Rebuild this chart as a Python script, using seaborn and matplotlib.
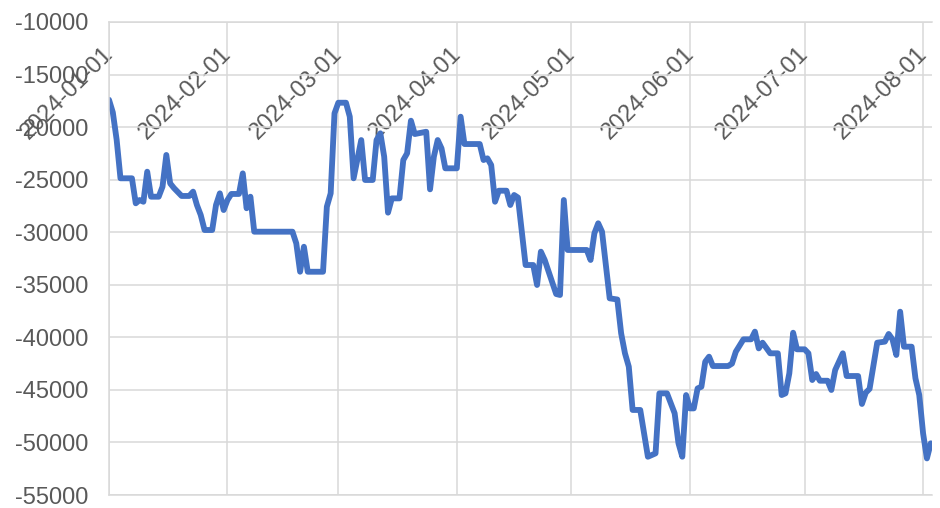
import matplotlib
matplotlib.use("Agg")
import matplotlib.pyplot as plt
import matplotlib.transforms as mtransforms
import seaborn as sns
import pandas as pd

# ---- data ----
dates = [
    "2024-01-01", "2024-01-02", "2024-01-03", "2024-01-04", "2024-01-07", "2024-01-08",
    "2024-01-09", "2024-01-10", "2024-01-11", "2024-01-12", "2024-01-14", "2024-01-15",
    "2024-01-16", "2024-01-17", "2024-01-18", "2024-01-20", "2024-01-22", "2024-01-23",
    "2024-01-24", "2024-01-25", "2024-01-26", "2024-01-28", "2024-01-29", "2024-01-30",
    "2024-01-31", "2024-02-01", "2024-02-02", "2024-02-04", "2024-02-05", "2024-02-06",
    "2024-02-07", "2024-02-08", "2024-02-18", "2024-02-19", "2024-02-20", "2024-02-21",
    "2024-02-22", "2024-02-26", "2024-02-27", "2024-02-28", "2024-02-29", "2024-03-01",
    "2024-03-03", "2024-03-04", "2024-03-05", "2024-03-07", "2024-03-08", "2024-03-10",
    "2024-03-11", "2024-03-12", "2024-03-13", "2024-03-14", "2024-03-15", "2024-03-17",
    "2024-03-18", "2024-03-19", "2024-03-20", "2024-03-21", "2024-03-24", "2024-03-25",
    "2024-03-26", "2024-03-27", "2024-03-28", "2024-03-29", "2024-04-01", "2024-04-02",
    "2024-04-03", "2024-04-07", "2024-04-08", "2024-04-09", "2024-04-10", "2024-04-11",
    "2024-04-12", "2024-04-14", "2024-04-15", "2024-04-16", "2024-04-17", "2024-04-19",
    "2024-04-21", "2024-04-22", "2024-04-23", "2024-04-24", "2024-04-27", "2024-04-28",
    "2024-04-29", "2024-04-30", "2024-05-05", "2024-05-06", "2024-05-07", "2024-05-08",
    "2024-05-09", "2024-05-11", "2024-05-13", "2024-05-14", "2024-05-15", "2024-05-16",
    "2024-05-17", "2024-05-19", "2024-05-21", "2024-05-23", "2024-05-24", "2024-05-26",
    "2024-05-28", "2024-05-29", "2024-05-30", "2024-05-31", "2024-06-01", "2024-06-02",
    "2024-06-03", "2024-06-04", "2024-06-05", "2024-06-06", "2024-06-07", "2024-06-11",
    "2024-06-12", "2024-06-13", "2024-06-15", "2024-06-17", "2024-06-18", "2024-06-19",
    "2024-06-20", "2024-06-22", "2024-06-24", "2024-06-25", "2024-06-26", "2024-06-27",
    "2024-06-28", "2024-06-29", "2024-07-01", "2024-07-02", "2024-07-03", "2024-07-04",
    "2024-07-05", "2024-07-07", "2024-07-08", "2024-07-09", "2024-07-11", "2024-07-12",
    "2024-07-15", "2024-07-16", "2024-07-17", "2024-07-18", "2024-07-20", "2024-07-22",
    "2024-07-23", "2024-07-24", "2024-07-25", "2024-07-26", "2024-07-27", "2024-07-29",
    "2024-07-30", "2024-07-31", "2024-08-01", "2024-08-02", "2024-08-03",
]
values = [
    -17400, -18600, -21200, -24870, -24870, -27250,
    -26935, -27100, -24240, -26620, -26620, -25670,
    -22650, -25350, -25800, -26550, -26550, -26140,
    -27410, -28360, -29790, -29790, -27410, -26300,
    -27890, -26935, -26360, -26360, -24400, -27720,
    -26620, -29950, -29950, -31060, -33760, -31380,
    -33760, -33760, -27570, -26300, -18690, -17680,
    -17680, -19010, -24870, -21230, -25030, -25030,
    -21230, -20590, -22810, -28140, -26780, -26780,
    -23130, -22490, -19390, -20660, -20440, -25920,
    -22810, -21230, -22020, -23920, -23920, -19010,
    -21610, -21610, -23130, -22970, -23610, -27100,
    -26050, -26050, -27410, -26460, -26700, -33120,
    -33120, -35020, -31850, -32640, -35880, -35970,
    -26935, -31690, -31690, -32640, -30100, -29150,
    -29950, -36290, -36400, -39620, -41520, -42790,
    -46910, -46910, -51360, -51040, -45330, -45330,
    -47230, -50080, -51360, -45490, -46760, -46760,
    -44860, -44700, -42320, -41840, -42730, -42730,
    -42500, -41370, -40190, -40190, -39460, -41050,
    -40510, -41520, -41520, -45490, -45330, -43430,
    -39560, -41140, -41140, -41520, -44060, -43490,
    -44130, -44130, -45010, -43110, -41520, -43680,
    -43680, -46340, -45270, -44900, -40510, -40410,
    -39680, -40200, -41680, -37560, -40890, -40890,
    -43900, -45490, -49130, -51520, -50080,
]
month_ticks = ["2024-01-01", "2024-02-01", "2024-03-01", "2024-04-01",
               "2024-05-01", "2024-06-01", "2024-07-01", "2024-08-01"]
y_ticks = [-10000, -15000, -20000, -25000, -30000, -35000, -40000, -45000, -50000, -55000]

# ---- styling ----
sns.set_style("white")
plt.rcParams["font.family"] = ["Liberation Sans", "DejaVu Sans"]

df = pd.DataFrame({"date": pd.to_datetime(dates), "value": values})

fig = plt.figure(figsize=(9.4, 5.08), dpi=100)
W, H = 940, 508
left, right, top, bottom = 109, 932, 22, 495
ax = fig.add_axes([left / W, 1 - bottom / H, (right - left) / W, (bottom - top) / H])

sns.lineplot(data=df, x="date", y="value", ax=ax, color="#4472C4",
             linewidth=4.2, solid_joinstyle="round", solid_capstyle="round")

ax.set_ylim(-55000, -10000)
ax.set_yticks(y_ticks)
ax.set_yticklabels([str(v) for v in y_ticks])
ax.set_xlim(pd.Timestamp("2024-01-01"), pd.Timestamp("2024-08-03 08:00"))
ax.set_xticks(pd.to_datetime(month_ticks))
ax.set_xticklabels(month_ticks)
ax.set_xlabel("")
ax.set_ylabel("")

grid_c = "#D9D9D9"
ax.grid(True, color=grid_c, linewidth=1.1)
ax.set_axisbelow(True)
for side in ["left", "bottom", "top"]:
    ax.spines[side].set_visible(True)
    ax.spines[side].set_color(grid_c)
    ax.spines[side].set_linewidth(1.1)
ax.spines["right"].set_visible(False)

ax.xaxis.tick_top()
ax.tick_params(axis="x", length=0, pad=-15, labelsize=17, colors="#595959")
ax.tick_params(axis="y", length=0, pad=15, labelsize=17, colors="#595959")
shift = mtransforms.ScaledTranslation(-7 / 100, 0, fig.dpi_scale_trans)
for lab in ax.get_xticklabels():
    lab.set_rotation(45)
    lab.set_rotation_mode("anchor")
    lab.set_ha("right")
    lab.set_va("top")
    lab.set_transform(lab.get_transform() + shift)

fig.savefig("out.png", dpi=100)
